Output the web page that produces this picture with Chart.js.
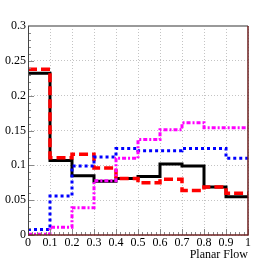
<!DOCTYPE html>
<html>
<head>
<meta charset="utf-8">
<script src="https://cdn.jsdelivr.net/npm/chart.js@4"></script>
<style>
  html, body { margin: 0; padding: 0; background: #fff; }
  #wrap { width: 276px; height: 262px; }
</style>
</head>
<body>
<div id="wrap"><canvas id="hist"></canvas></div>
<script>
// bin edges and contents
const binEdges = [0, 0.1, 0.2, 0.3, 0.4, 0.5, 0.6, 0.7, 0.8, 0.9, 1.0];
const blackVals = [0.232, 0.107, 0.085, 0.077, 0.081, 0.084, 0.102, 0.099, 0.069, 0.055];
const redVals = [0.238, 0.111, 0.116, 0.096, 0.081, 0.075, 0.080, 0.064, 0.069, 0.060];
const blueVals = [0.008, 0.056, 0.099, 0.112, 0.124, 0.121, 0.121, 0.124, 0.124, 0.110];
const magentaVals = [0.001, 0.011, 0.039, 0.078, 0.110, 0.137, 0.151, 0.161, 0.154, 0.154];
const xTicks = [0, 0.1, 0.2, 0.3, 0.4, 0.5, 0.6, 0.7, 0.8, 0.9, 1];
const yTicks = [0, 0.05, 0.1, 0.15, 0.2, 0.25, 0.3];

// step points: one per edge (bin value at its left edge), last bin repeated at x=1
function steps(vals) {
    return binEdges.map((x, i) => ({ x: x, y: vals[Math.min(i, vals.length - 1)] }));
}

function fmt(v) {
    return String(Number(v.toFixed(3)));
}

// ROOT style frame: inward ticks and the four frame lines
const framePlugin = {
    id: 'frame',
    afterDatasetsDraw(chart) {
        const ctx = chart.ctx;
        const a = chart.chartArea;
        const xs = chart.scales.x, ys = chart.scales.y;
        ctx.save();
        ctx.lineWidth = 1;
        ctx.strokeStyle = '#888';
        // x ticks (bottom)
        for (let i = 0; i <= 50; i++) {
            const v = i * 0.02;
            const px = Math.round(xs.getPixelForValue(v)) + 0.5;
            const len = (i % 5 === 0) ? 6 : 3;
            ctx.beginPath();
            ctx.moveTo(px, a.bottom);
            ctx.lineTo(px, a.bottom - len);
            ctx.stroke();
        }
        // y ticks (left)
        for (let i = 0; i <= 30; i++) {
            const v = i * 0.01;
            const py = Math.round(ys.getPixelForValue(v)) + 0.5;
            const len = (i % 5 === 0) ? 6 : 3;
            ctx.beginPath();
            ctx.moveTo(a.left, py);
            ctx.lineTo(a.left + len, py);
            ctx.stroke();
        }
        // top line
        ctx.strokeStyle = '#999';
        ctx.lineWidth = 2;
        ctx.beginPath();
        ctx.moveTo(a.left, a.top);
        ctx.lineTo(a.right, a.top);
        ctx.stroke();
        // left line
        ctx.strokeStyle = '#444';
        ctx.lineWidth = 1;
        ctx.beginPath();
        ctx.moveTo(a.left + 0.5, a.top);
        ctx.lineTo(a.left + 0.5, a.bottom);
        ctx.stroke();
        // right and bottom lines
        ctx.strokeStyle = '#6e2020';
        ctx.lineWidth = 1.5;
        ctx.beginPath();
        ctx.moveTo(a.right, a.top);
        ctx.lineTo(a.right, a.bottom);
        ctx.lineTo(a.left, a.bottom);
        ctx.stroke();
        ctx.restore();
    }
};

const ctx = document.getElementById('hist').getContext('2d');
const chart = new Chart(ctx, {
    type: 'line',
    data: {
        datasets: [
            {
                label: 'magenta',
                data: steps(magentaVals),
                borderColor: '#ff00ff',
                borderWidth: 3,
                borderDash: [4, 2, 2, 2],
                stepped: 'before',
                pointRadius: 0,
                fill: false
            },
            {
                label: 'blue',
                data: steps(blueVals),
                borderColor: '#0000ff',
                borderWidth: 3,
                borderDash: [3, 3],
                stepped: 'before',
                pointRadius: 0,
                fill: false
            },
            {
                label: 'red',
                data: steps(redVals),
                borderColor: '#ff0000',
                borderWidth: 3.5,
                borderDash: [9, 4],
                stepped: 'before',
                pointRadius: 0,
                fill: false
            },
            {
                label: 'black',
                data: steps(blackVals),
                borderColor: '#000000',
                borderWidth: 3,
                stepped: 'before',
                pointRadius: 0,
                fill: false
            }
        ]
    },
    options: {
        responsive: true,
        maintainAspectRatio: false,
        animation: false,
        layout: { padding: { top: 26, right: 28, left: 0, bottom: 0 } },
        plugins: {
            legend: { display: false },
            tooltip: { enabled: false }
        },
        scales: {
            x: {
                type: 'linear',
                min: 0,
                max: 1,
                afterBuildTicks: (scale) => { scale.ticks = xTicks.map(v => ({ value: v })); },
                afterFit: (scale) => { scale.height = 27; },
                ticks: {
                    callback: (v) => fmt(v),
                    color: '#000',
                    padding: 1,
                    maxRotation: 0,
                    autoSkip: false,
                    font: { family: 'Liberation Serif', size: 12 }
                },
                grid: { color: '#c4c4c4', drawTicks: false },
                border: { display: false, dash: [1, 2] },
                title: {
                    display: true,
                    text: 'Planar Flow',
                    align: 'end',
                    color: '#000',
                    padding: { top: 2, bottom: 0 },
                    font: { family: 'Liberation Serif', size: 12 }
                }
            },
            y: {
                type: 'linear',
                min: 0,
                max: 0.3,
                afterBuildTicks: (scale) => { scale.ticks = yTicks.map(v => ({ value: v })); },
                afterFit: (scale) => { scale.width = 28; },
                ticks: {
                    callback: (v) => fmt(v),
                    color: '#000',
                    padding: 2,
                    autoSkip: false,
                    font: { family: 'Liberation Serif', size: 12 }
                },
                grid: { color: '#c4c4c4', drawTicks: false },
                border: { display: false, dash: [1, 2] }
            }
        }
    },
    plugins: [framePlugin]
});
</script>
</body>
</html>
